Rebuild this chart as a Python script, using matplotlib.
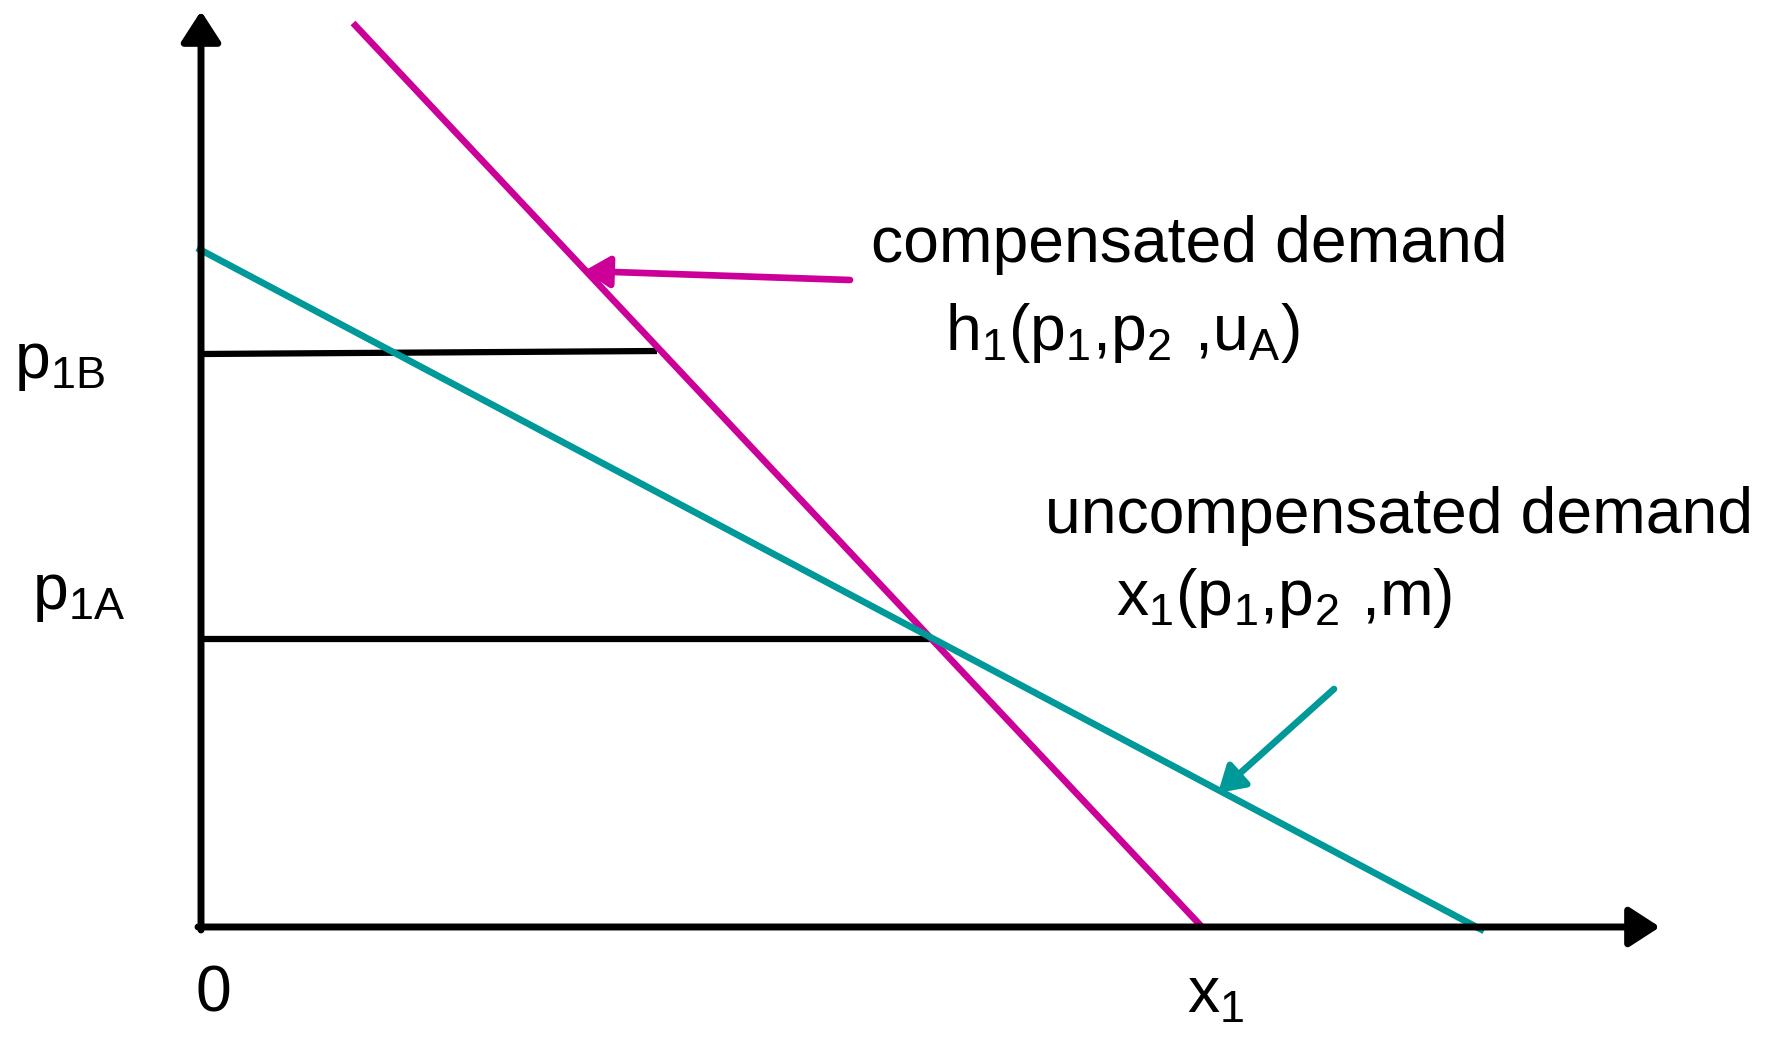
import numpy as np
import matplotlib
matplotlib.use('Agg')
import matplotlib.pyplot as plt

plt.rcParams['font.family'] = ['Liberation Sans', 'DejaVu Sans']
plt.rcParams['mathtext.fontset'] = 'custom'
plt.rcParams['mathtext.rm'] = 'Liberation Sans'
plt.rcParams['mathtext.default'] = 'regular'

# geometry (pixel-like units, origin at the axes corner)
hicks_x = [152, 1001]          # compensated demand
hicks_y = [904, 0]
marsh_x = [-4, 1283]           # uncompensated demand
marsh_y = [679, -4]
p1B_x = [0, 456]
p1B_y = [573, 576]
p1A_x = [0, 730]
p1A_y = [288, 288]
hicks_arrow = [(649, 647), (383, 656)]   # tail, tip
marsh_arrow = [(1133, 238), (1017, 134)]
xaxis_end = 1459
yaxis_end = 916

magenta = '#CC0099'
teal = '#009999'

fig = plt.figure(figsize=(17.68, 10.37), dpi=100)
ax = fig.add_axes([0, 0, 1, 1])
ax.set_xlim(-201, 1567)
ax.set_ylim(-110, 927)
ax.axis('off')

# axes with arrow heads
axis_arrow = dict(arrowstyle='-|>,head_length=0.85,head_width=0.55',
                  lw=5, color='black', shrinkA=0, shrinkB=0,
                  mutation_scale=22)
ax.annotate('', xy=(xaxis_end, 0), xytext=(-3, 0), arrowprops=axis_arrow)
ax.annotate('', xy=(0, yaxis_end), xytext=(0, -3), arrowprops=axis_arrow)

# price levels
ax.plot(p1B_x, p1B_y, color='black', lw=4.5, solid_capstyle='butt')
ax.plot(p1A_x, p1A_y, color='black', lw=4.5, solid_capstyle='butt')

# demand curves
ax.plot(hicks_x, hicks_y, color=magenta, lw=4.8, solid_capstyle='butt')
ax.plot(marsh_x, marsh_y, color=teal, lw=4.8, solid_capstyle='butt')

# pointer arrows
ax.annotate('', xy=hicks_arrow[1], xytext=hicks_arrow[0],
            arrowprops=dict(arrowstyle='-|>,head_length=0.9,head_width=0.55',
                            lw=4.8, color=magenta, shrinkA=0, shrinkB=0,
                            mutation_scale=17))
ax.annotate('', xy=marsh_arrow[1], xytext=marsh_arrow[0],
            arrowprops=dict(arrowstyle='-|>,head_length=0.9,head_width=0.55',
                            lw=4.8, color=teal, shrinkA=0, shrinkB=0,
                            mutation_scale=17))

fs = 46.3
ax.text(670, 665, 'compensated demand', fontsize=fs, va='baseline', ha='left')
ax.text(744, 577, r'$h_1(p_1{,}p_2\ {,}u_A)$', fontsize=fs, va='baseline', ha='left')
ax.text(844, 394, 'uncompensated demand', fontsize=fs, va='baseline', ha='left')
ax.text(915, 312, r'$x_1(p_1{,}p_2\ {,}m)$', fontsize=fs, va='baseline', ha='left')
ax.text(-187, 549, r'$p_{1B}$', fontsize=fs, va='baseline', ha='left')
ax.text(-169, 318, r'$p_{1A}$', fontsize=fs, va='baseline', ha='left')
ax.text(-6, -84, '0', fontsize=fs, va='baseline', ha='left')
ax.text(986, -86, r'$x_1$', fontsize=fs, va='baseline', ha='left')

fig.savefig('out.png', dpi=100, facecolor='white')
